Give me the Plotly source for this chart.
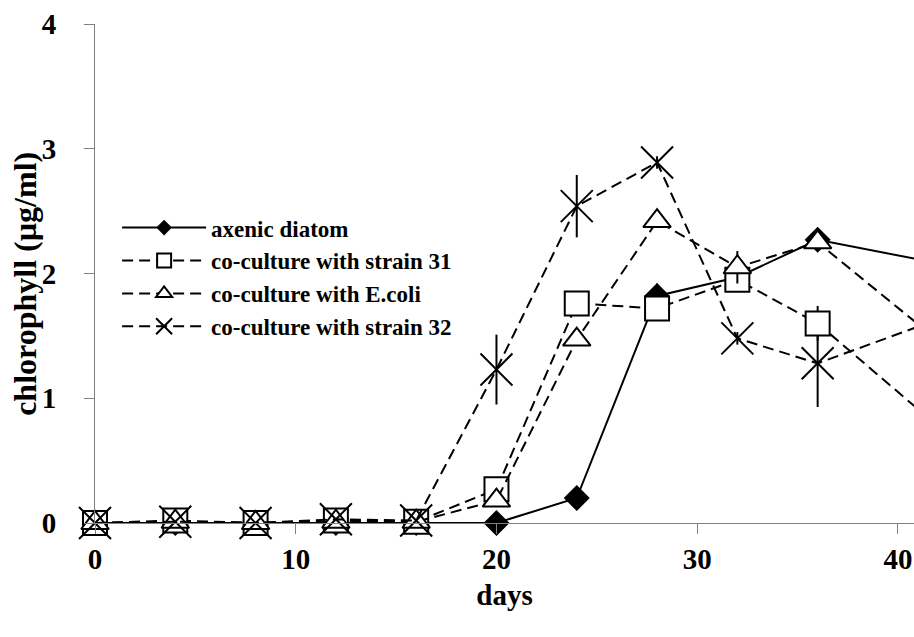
import plotly.graph_objects as go

# Sampling days and chlorophyll readings (µg/ml)
days = [0, 4, 8, 12, 16, 20, 24, 28, 32, 36, 44]
axenic = [0, 0, 0, 0, 0, 0, 0.20, 1.82, 1.97, 2.27, 2.02]
strain31 = [0, 0.02, 0, 0.02, 0.01, 0.27, 1.76, 1.72, 1.95, 1.60, 0.50]
ecoli = [0, 0.01, 0, 0.01, 0.01, 0.18, 1.47, 2.42, 2.05, 2.25, 1.20]
strain32 = [0, 0.01, 0, 0.03, 0.02, 1.23, 2.54, 2.89, 1.48, 1.28, 1.75]

# Standard deviations
axenic_sd = [0, 0, 0, 0, 0, 0, 0.02, 0.10, 0.05, 0.05, 0.05]
strain31_sd = [0, 0, 0, 0, 0, 0.03, 0.05, 0.10, 0.05, 0.14, 0.05]
ecoli_sd = [0, 0, 0, 0, 0, 0.03, 0.05, 0.05, 0.13, 0.05, 0.05]
strain32_sd_up = [0, 0, 0, 0, 0, 0.28, 0.25, 0.05, 0.05, 0.22, 0.05]
strain32_sd_down = [0, 0, 0, 0, 0, 0.28, 0.25, 0.05, 0.05, 0.35, 0.05]

names = ["axenic diatom", "co-culture with strain 31",
         "co-culture with E.coli", "co-culture with strain 32"]
x_ticks = [0, 10, 20, 30, 40]
y_ticks = [0, 1, 2, 3, 4]

SERIF = "Liberation Serif, Times New Roman, serif"
DASH = "11px,6px"

# symbol, plot size, legend size, fill style, dashed
styles = [
    ("diamond", 20, 12, "solid", False),
    ("square", 24, 14, "hollow", True),
    ("triangle-up", 24, 14, "hollow", True),
    ("x-thin-open", 32, 16, "stroke", True),
]
series = [axenic, strain31, ecoli, strain32]
errors = [
    dict(array=axenic_sd),
    dict(array=strain31_sd),
    dict(array=ecoli_sd),
    dict(array=strain32_sd_up, arrayminus=strain32_sd_down, symmetric=False),
]


def marker(symbol, size, fill):
    if fill == "solid":
        return dict(symbol=symbol, size=size, color="black")
    if fill == "stroke":
        return dict(symbol=symbol, size=size, color="black",
                    line=dict(color="black", width=2))
    return dict(symbol=symbol, size=size, color="white",
                line=dict(color="black", width=2))


fig = go.Figure()
for name, ys, err, (sym, size, lsize, fill, dashed) in zip(names, series, errors, styles):
    line = dict(color="black", width=2, dash=DASH if dashed else "solid")
    fig.add_trace(go.Scatter(
        x=days, y=ys, name=name, mode="lines+markers", line=line,
        marker=marker(sym, size, fill), showlegend=False, cliponaxis=False,
        error_y=dict(type="data", color="black", thickness=2, width=0, **err)))
    # legend entry with smaller key symbols
    fig.add_trace(go.Scatter(
        x=[None], y=[None], name=name, mode="lines+markers", line=line,
        marker=marker(sym, lsize, fill), showlegend=True))

fig.add_annotation(
    text="chlorophyll (µg/ml)", textangle=-90, showarrow=False,
    xref="paper", yref="paper", x=-0.085, y=0.48,
    xanchor="center", yanchor="middle",
    font=dict(family=SERIF, size=32, weight="bold", color="black"))

fig.update_layout(
    width=914, height=637,
    margin=dict(l=95, r=0, t=24, b=114),
    paper_bgcolor="white", plot_bgcolor="white",
    font=dict(family=SERIF, color="black", size=22, weight="bold"),
    legend=dict(x=0.027, y=0.635, xanchor="left", yanchor="top",
                bgcolor="rgba(0,0,0,0)", itemwidth=84,
                font=dict(family=SERIF, size=23, weight="bold"),
                tracegroupgap=0),
    xaxis=dict(range=[0, 40.8], tickvals=x_ticks, ticktext=[str(v) for v in x_ticks],
               showgrid=False, zeroline=False, showline=True, linecolor="#808080",
               linewidth=1, ticks="outside", ticklen=10, tickcolor="#808080",
               tickfont=dict(family=SERIF, size=29, weight="bold"),
               title=dict(text="days", standoff=10,
                          font=dict(family=SERIF, size=29, weight="bold"))),
    yaxis=dict(range=[0, 4], tickvals=y_ticks, ticktext=[str(v) for v in y_ticks],
               showgrid=False, zeroline=False, showline=True, linecolor="#808080",
               linewidth=1, ticks="outside", ticklen=10, tickcolor="#808080",
               ticklabelstandoff=22,
               tickfont=dict(family=SERIF, size=29, weight="bold")),
)

fig.write_html("out.html")
